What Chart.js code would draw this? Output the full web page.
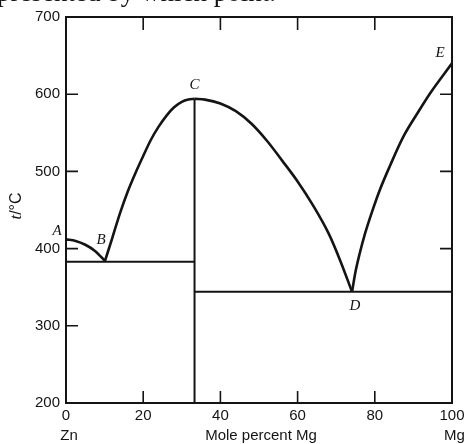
<!DOCTYPE html>
<html>
<head>
<meta charset="utf-8">
<script src="https://cdn.jsdelivr.net/npm/chart.js@4.4.0/dist/chart.umd.min.js"></script>
<style>
  html, body { margin: 0; padding: 0; background: #fff; }
  #wrap { position: relative; width: 464px; height: 444px; }
</style>
</head>
<body>
<div id="wrap"><canvas id="phase_chart" width="464" height="444"></canvas></div>
<script>
// Zn-Mg phase diagram
// liquidus branches: mole percent Mg and temperature in °C
const abX = [0, 2.5, 5, 7.5, 10.1];
const abT = [412, 410, 405, 397, 384];
const bcX = [10.1, 12, 14, 16, 18, 20, 22, 24, 26, 28, 30, 31.7, 33.3];
const bcT = [384, 414, 446, 474, 498, 520, 541, 558, 572, 583, 590, 593, 594];
const cdX = [33.3, 36, 40, 44, 48, 52, 56, 60, 64, 68, 71, 74.1];
const cdT = [594, 593, 588, 578, 562, 540, 514, 487, 456, 420, 385, 344];
const deX = [74.1, 75, 76, 77.5, 79.3, 81.3, 84, 87.4, 91, 94.3, 100];
const deT = [344, 370, 392, 420, 448, 476, 508, 545, 575, 601, 640];

// eutectic lines and the compound MgZn2
const eutectic1X = [0, 33.3];
const eutectic1T = [383, 383];
const eutectic2X = [33.3, 100];
const eutectic2T = [344, 344];
const compoundX = [33.3, 33.3];
const compoundT = [200, 594];

// point labels
const pointNames = ['A', 'B', 'C', 'D', 'E'];
const pointX = [0, 10.1, 33.3, 74.1, 100];
const pointT = [412, 384, 594, 344, 640];

const xTicks = [0, 20, 40, 60, 80, 100];
const yTicks = [200, 300, 400, 500, 600, 700];

function pts(xs, ts) {
    let out = [];
    for (let i = 0; i < xs.length; i++) out.push({ x: xs[i], y: ts[i] });
    return out;
}

const ink = '#141414';

function curve(xs, ts) {
    return {
        data: pts(xs, ts),
        borderColor: ink,
        borderWidth: 2.6,
        pointRadius: 0,
        cubicInterpolationMode: 'monotone',
        fill: false
    };
}
function straight(xs, ts) {
    return {
        data: pts(xs, ts),
        borderColor: ink,
        borderWidth: 2,
        pointRadius: 0,
        tension: 0,
        fill: false
    };
}

// label offsets in px relative to the point
const labelDx = [-9, -4, 0, 3, -12];
const labelDy = [-8, -21, -14, 14, -10];

const extras = {
    id: 'extras',
    afterDraw(chart) {
        const ctx = chart.ctx;
        const a = chart.chartArea;
        const xs = chart.scales.x, ys = chart.scales.y;
        ctx.save();
        // frame
        ctx.strokeStyle = ink;
        ctx.lineWidth = 2;
        ctx.strokeRect(a.left, a.top, a.right - a.left, a.bottom - a.top);
        // inward ticks
        ctx.lineWidth = 1.6;
        ctx.beginPath();
        [20, 40, 60, 80].forEach(v => {
            const px = xs.getPixelForValue(v);
            ctx.moveTo(px, a.bottom); ctx.lineTo(px, a.bottom - 12);
            ctx.moveTo(px, a.top); ctx.lineTo(px, a.top + 13);
        });
        [300, 400, 500, 600].forEach(v => {
            const py = ys.getPixelForValue(v);
            ctx.moveTo(a.left, py); ctx.lineTo(a.left + 12, py);
        });
        [400, 500, 600].forEach(v => {
            const py = ys.getPixelForValue(v);
            ctx.moveTo(a.right, py); ctx.lineTo(a.right - 12, py);
        });
        ctx.stroke();

        // point letters
        ctx.fillStyle = ink;
        ctx.font = 'italic 15px "Liberation Serif", "DejaVu Serif", serif';
        ctx.textAlign = 'center';
        ctx.textBaseline = 'middle';
        for (let i = 0; i < pointNames.length; i++) {
            ctx.fillText(pointNames[i],
                xs.getPixelForValue(pointX[i]) + labelDx[i],
                ys.getPixelForValue(pointT[i]) + labelDy[i]);
        }

        // axis texts
        ctx.font = '15px "Liberation Sans", Arial, sans-serif';
        ctx.fillText('Zn', xs.getPixelForValue(0) + 3, 436);
        ctx.fillText('Mole percent Mg', 261, 436);
        ctx.textAlign = 'left';
        ctx.fillText('Mg', 444, 436);

        ctx.save();
        ctx.translate(17, 206);
        ctx.rotate(-Math.PI / 2);
        ctx.textAlign = 'left';
        ctx.font = 'italic 17px "Liberation Serif", serif';
        const tw = ctx.measureText('t').width;
        ctx.font = '16px "Liberation Sans", Arial, sans-serif';
        const rw = ctx.measureText('/°C').width;
        const x0 = -(tw + rw) / 2;
        ctx.font = 'italic 17px "Liberation Serif", serif';
        ctx.fillText('t', x0, 0);
        ctx.font = '16px "Liberation Sans", Arial, sans-serif';
        ctx.fillText('/°C', x0 + tw, 0);
        ctx.restore();

        // clipped line of text from the page above
        ctx.font = '27px "Liberation Serif", serif';
        ctx.textAlign = 'right';
        ctx.textBaseline = 'alphabetic';
        ctx.fillText('represented by which point.', 276, 1);
        ctx.restore();
    }
};

new Chart(document.getElementById('phase_chart').getContext('2d'), {
    type: 'line',
    data: {
        datasets: [
            curve(abX, abT),
            curve(bcX, bcT),
            curve(cdX, cdT),
            curve(deX, deT),
            straight(eutectic1X, eutectic1T),
            straight(eutectic2X, eutectic2T),
            straight(compoundX, compoundT)
        ]
    },
    options: {
        responsive: false,
        animation: false,
        layout: { padding: { top: 17, right: 0, left: 0, bottom: 0 } },
        plugins: { legend: { display: false }, tooltip: { enabled: false } },
        scales: {
            x: {
                type: 'linear',
                min: 0, max: 100,
                afterFit(s) { s.height = 41; s.paddingRight = 12; s.paddingLeft = 0; },
                afterBuildTicks(s) { s.ticks = xTicks.map(v => ({ value: v })); },
                grid: { display: false, drawTicks: false },
                border: { display: false },
                ticks: { color: ink, padding: 4, font: { size: 15, family: '"Liberation Sans", Arial, sans-serif' } }
            },
            y: {
                type: 'linear',
                min: 200, max: 700,
                afterFit(s) { s.width = 66; s.paddingTop = 0; s.paddingBottom = 0; },
                afterBuildTicks(s) { s.ticks = yTicks.map(v => ({ value: v })); },
                grid: { display: false, drawTicks: false },
                border: { display: false },
                ticks: { color: ink, padding: 6, font: { size: 15, family: '"Liberation Sans", Arial, sans-serif' } }
            }
        }
    },
    plugins: [extras]
});
</script>
</body>
</html>
